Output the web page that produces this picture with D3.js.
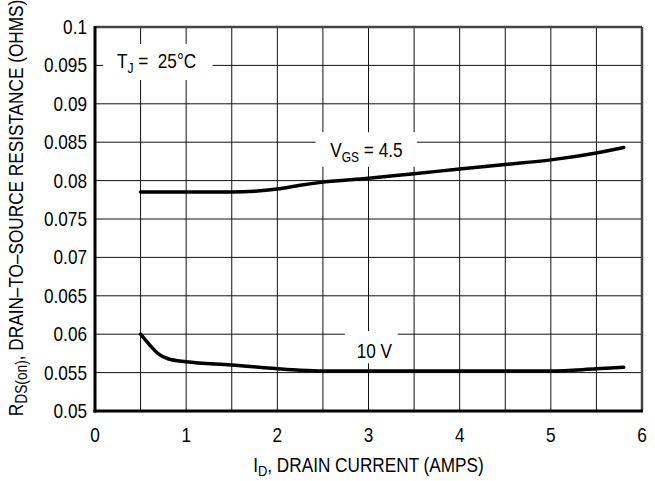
<!DOCTYPE html>
<html>
<head>
<meta charset="utf-8">
<script src="https://cdn.jsdelivr.net/npm/d3@7"></script>
<style>
    body { margin: 0; background: #fff; }
    text { font-family: "Liberation Sans", Arial, sans-serif; fill: #000; white-space: pre; }
</style>
</head>
<body>
<div id="chart"></div>
<script>
// drain current (A) and on-resistance (ohms)
const currentVgs45 = [0.5, 0.75, 1, 1.5, 1.75, 2, 2.25, 2.5, 3, 3.5, 4, 4.5, 5, 5.5, 5.8];
const rdsVgs45 = [0.0785, 0.0785, 0.0785, 0.0785, 0.0786, 0.0789, 0.0794, 0.0798, 0.0803, 0.0809, 0.0815, 0.0821, 0.0827, 0.0836, 0.0843];
const currentVgs10 = [0.5, 0.6, 0.7, 0.8, 1, 1.5, 2, 2.25, 2.5, 3, 4, 5, 5.5, 5.8];
const rdsVgs10 = [0.0600, 0.0586, 0.0574, 0.0568, 0.0564, 0.0560, 0.0555, 0.0553, 0.0552, 0.0552, 0.0552, 0.0552, 0.0555, 0.0557];

const xTicks = [0, 1, 2, 3, 4, 5, 6];
const yTicks = [0.05, 0.055, 0.06, 0.065, 0.07, 0.075, 0.08, 0.085, 0.09, 0.095, 0.1];
const yTickLabels = ["0.05", "0.055", "0.06", "0.065", "0.07", "0.075", "0.08", "0.085", "0.09", "0.095", "0.1"];
const xGrid = d3.range(0.5, 6, 0.5);

const W = 655, H = 481;
const narrow = 0.86; // squeeze text to look like a condensed face

const svg = d3.select("#chart").append("svg")
    .attr("width", W)
    .attr("height", H);

const x = d3.scaleLinear().domain([0, 6]).range([95, 642]);
const y = d3.scaleLinear().domain([0.05, 0.1]).range([411, 27]);

function label(px, py, anchor, rot) {
    return svg.append("text")
        .attr("transform", `translate(${px},${py})${rot ? " rotate(" + rot + ")" : ""} scale(${narrow},1)`)
        .attr("text-anchor", anchor || "start")
        .attr("font-size", "20px");
}

// grid
const grid = svg.append("g").attr("stroke", "#111").attr("stroke-width", 1);
grid.selectAll("line.v").data(xGrid).join("line")
    .attr("x1", d => x(d)).attr("x2", d => x(d))
    .attr("y1", y(0.1)).attr("y2", y(0.05));
grid.selectAll("line.h").data(yTicks.slice(1, -1)).join("line")
    .attr("x1", x(0)).attr("x2", x(6))
    .attr("y1", d => y(d)).attr("y2", d => y(d));

// white boxes behind the labels
const boxes = [
    [0.09, 0.0978, 1.29, 0.0931],
    [2.42, 0.0863, 3.53, 0.0818],
    [2.74, 0.0604, 3.32, 0.0562]
];
svg.selectAll("rect.box").data(boxes).join("rect")
    .attr("x", d => x(d[0])).attr("y", d => y(d[1]))
    .attr("width", d => x(d[2]) - x(d[0]))
    .attr("height", d => y(d[3]) - y(d[1]))
    .attr("fill", "#fff");

// frame
svg.append("line").attr("x1", x(0)).attr("x2", x(6)).attr("y1", y(0.1)).attr("y2", y(0.1))
    .attr("stroke", "#444").attr("stroke-width", 2.5);
svg.append("line").attr("x1", x(6)).attr("x2", x(6)).attr("y1", y(0.1)).attr("y2", y(0.05))
    .attr("stroke", "#444").attr("stroke-width", 2.5);
svg.append("line").attr("x1", x(0)).attr("x2", x(0)).attr("y1", y(0.1) - 1).attr("y2", y(0.05) + 1.5)
    .attr("stroke", "#000").attr("stroke-width", 3);
svg.append("line").attr("x1", x(0) - 1.5).attr("x2", x(6) + 1).attr("y1", y(0.05)).attr("y2", y(0.05))
    .attr("stroke", "#000").attr("stroke-width", 3);

// curves
const line = d3.line()
    .x(d => x(d[0]))
    .y(d => y(d[1]))
    .curve(d3.curveMonotoneX);
const series = [
    d3.zip(currentVgs45, rdsVgs45),
    d3.zip(currentVgs10, rdsVgs10)
];
svg.selectAll("path.curve").data(series).join("path")
    .attr("d", line)
    .attr("fill", "none")
    .attr("stroke", "#000")
    .attr("stroke-width", 3.5)
    .attr("stroke-linecap", "round");

// tick labels
yTicks.forEach((d, i) => label(87, y(d) + 7, "end").text(yTickLabels[i]));
xTicks.forEach(d => label(x(d), 442, "middle").text(d));

// axis titles
const xt = label(x(3), 472, "middle");
xt.append("tspan").text("I");
xt.append("tspan").attr("dy", 4).attr("font-size", "15px").text("D");
xt.append("tspan").attr("dy", -4).text(", DRAIN CURRENT (AMPS)");

const yt = label(23, 208, "middle", -90);
yt.append("tspan").text("R");
yt.append("tspan").attr("dy", 4).attr("font-size", "16px").text("DS(on)");
yt.append("tspan").attr("dy", -4).text(", DRAIN\u2013TO\u2013SOURCE RESISTANCE (OHMS)");

// annotations
const tj = label(x(0.24), 68, "start");
tj.append("tspan").text("T");
tj.append("tspan").attr("dy", 5).attr("font-size", "14px").text("J");
tj.append("tspan").attr("dy", -5).text(" =  25\u00B0C");

const vgs = label(x(2.58), 157, "start");
vgs.append("tspan").text("V");
vgs.append("tspan").attr("dy", 5).attr("font-size", "14px").text("GS");
vgs.append("tspan").attr("dy", -5).text(" = 4.5");

label(x(2.87), 358, "start").text("10 V");
</script>
</body>
</html>
